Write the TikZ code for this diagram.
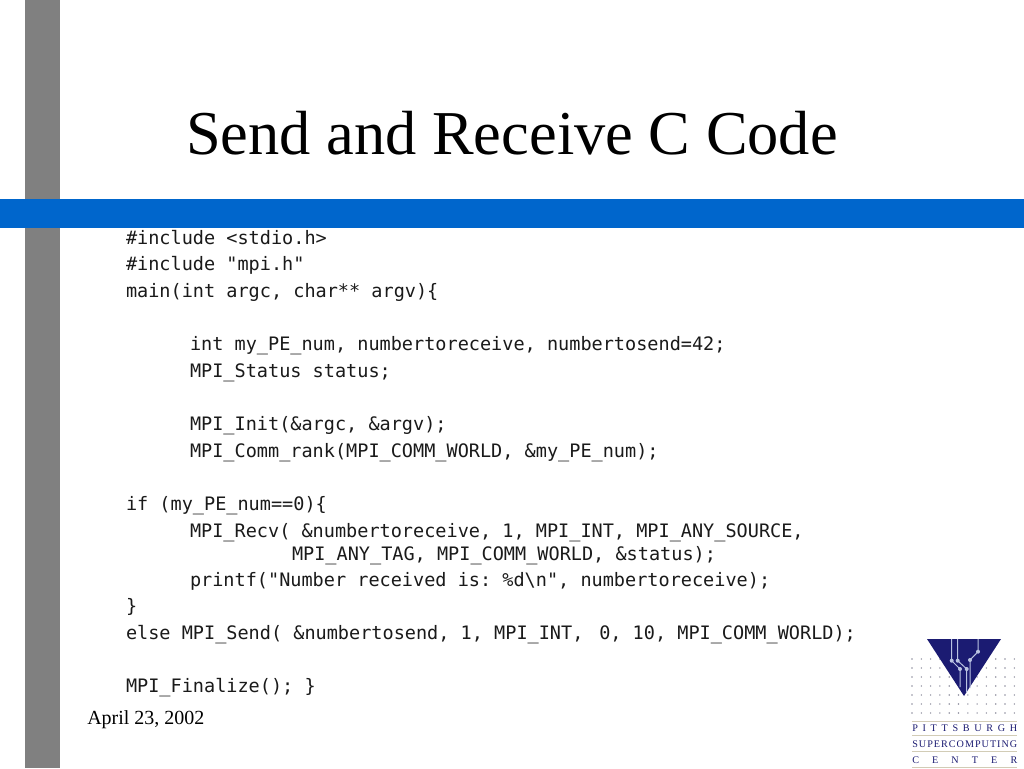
\documentclass[tikz,border=0pt]{standalone}
\usepackage{fontspec}
\setmainfont{Liberation Serif}
\setmonofont{DejaVu Sans Mono}
\definecolor{barblue}{HTML}{0066CC}
\definecolor{bargray}{HTML}{808080}
\definecolor{logonavy}{HTML}{1B1B72}
\definecolor{logotan}{HTML}{D2CCB6}
\definecolor{logodot}{HTML}{8E8E9E}
\definecolor{logotrace}{HTML}{BAC3E2}
\definecolor{codeink}{HTML}{1A1A1A}
\tikzset{
  code/.style={anchor=base west,inner sep=0pt,outer sep=0pt,text=codeink,font=\ttfamily\fontsize{13.9pt}{16pt}\selectfont},
  lettering/.style={anchor=base west,inner sep=0pt,text=logonavy,font=\fontsize{7.6pt}{9pt}\selectfont},
  trace/.style={draw=logotrace,line width=0.75pt},
  pad/.style={circle,fill=logotrace,inner sep=0pt,minimum size=3pt}
}
\newcommand{\spreadline}[1]{\makebox[78.75pt][s]{#1}}
\begin{document}
\begin{tikzpicture}[x=0.75pt,y=-0.75pt]
\useasboundingbox (0,0) rectangle (1024,768);
\fill[white] (0,0) rectangle (1024,768);
\fill[bargray] (25,0) rectangle (60,768);
\fill[barblue] (0,199) rectangle (1024,228);
\node[anchor=base,inner sep=0pt,font=\fontsize{46.8pt}{54pt}\selectfont] (title) at (512,154) {Send and Receive C Code};
\node[code] (l1) at (126,244.5) {\#include <stdio.h>};
\node[code] (l2) at (126,270.5) {\#include "mpi.h"};
\node[code] (l3) at (126,297.5) {main(int argc, char** argv)\{};
\node[code] (l4) at (190,350.5) {int my\_PE\_num, numbertoreceive, numbertosend=42;};
\node[code] (l5) at (190,377.5) {MPI\_Status status;};
\node[code] (l6) at (190,430.5) {MPI\_Init(\&argc, \&argv);};
\node[code] (l7) at (190,457.5) {MPI\_Comm\_rank(MPI\_COMM\_WORLD, \&my\_PE\_num);};
\node[code] (l8) at (126,510.5) {if (my\_PE\_num==0)\{};
\node[code] (l9) at (190,537.5) {MPI\_Recv( \&numbertoreceive, 1, MPI\_INT, MPI\_ANY\_SOURCE,};
\node[code] (l10) at (292,560.5) {MPI\_ANY\_TAG, MPI\_COMM\_WORLD, \&status);};
\node[code] (l11) at (190,586.5) {printf("Number received is: \%d\textbackslash n", numbertoreceive);};
\node[code] (l12) at (126,612.5) {\}};
\node[code] (l13) at (126,639.5) {else MPI\_Send( \&numbertosend, 1, MPI\_INT,\hspace{3.5pt} 0, 10, MPI\_COMM\_WORLD);};
\node[code] (l14) at (126,692.5) {MPI\_Finalize(); \}};
\node[anchor=base west,inner sep=0pt,font=\fontsize{15pt}{18pt}\selectfont] (date) at (87,724) {April 23, 2002};
% logo dots
\foreach \yy in {659,668,677,686,695,704,713}
  \foreach \xx in {912,921.3,...,1017}
    \fill[logodot] (\xx,\yy) circle (0.8);
\fill[logonavy] (927,639) -- (1001,639) -- (964,696) -- cycle;
\draw[trace] (951.7,639) -- (951.7,660.7) -- (960,669) -- (960,687);
\draw[trace] (957.7,639) -- (957.7,660.7) -- (966.7,669) -- (966.7,692);
\draw[trace] (978,639) -- (978,651.7) -- (970,660) -- (970,688);
\foreach \p in {(951.7,660.7),(957.7,660.7),(960,669),(966.7,669),(978,651.7),(970,660)}
  \node[pad] at \p {};
\foreach \yy in {721,735.5,751,767}
  \draw[logotan,line width=0.6pt] (912,\yy) -- (1017,\yy);
\node[lettering] (pgh) at (912,731) {\spreadline{P\hfill I\hfill T\hfill T\hfill S\hfill B\hfill U\hfill R\hfill G\hfill H}};
\node[lettering] (psc) at (912,747) {\spreadline{S\hfill U\hfill P\hfill E\hfill R\hfill C\hfill O\hfill M\hfill P\hfill U\hfill T\hfill I\hfill N\hfill G}};
\node[lettering] (ctr) at (912,763) {\spreadline{C\hfill E\hfill N\hfill T\hfill E\hfill R}};
\end{tikzpicture}
\end{document}
